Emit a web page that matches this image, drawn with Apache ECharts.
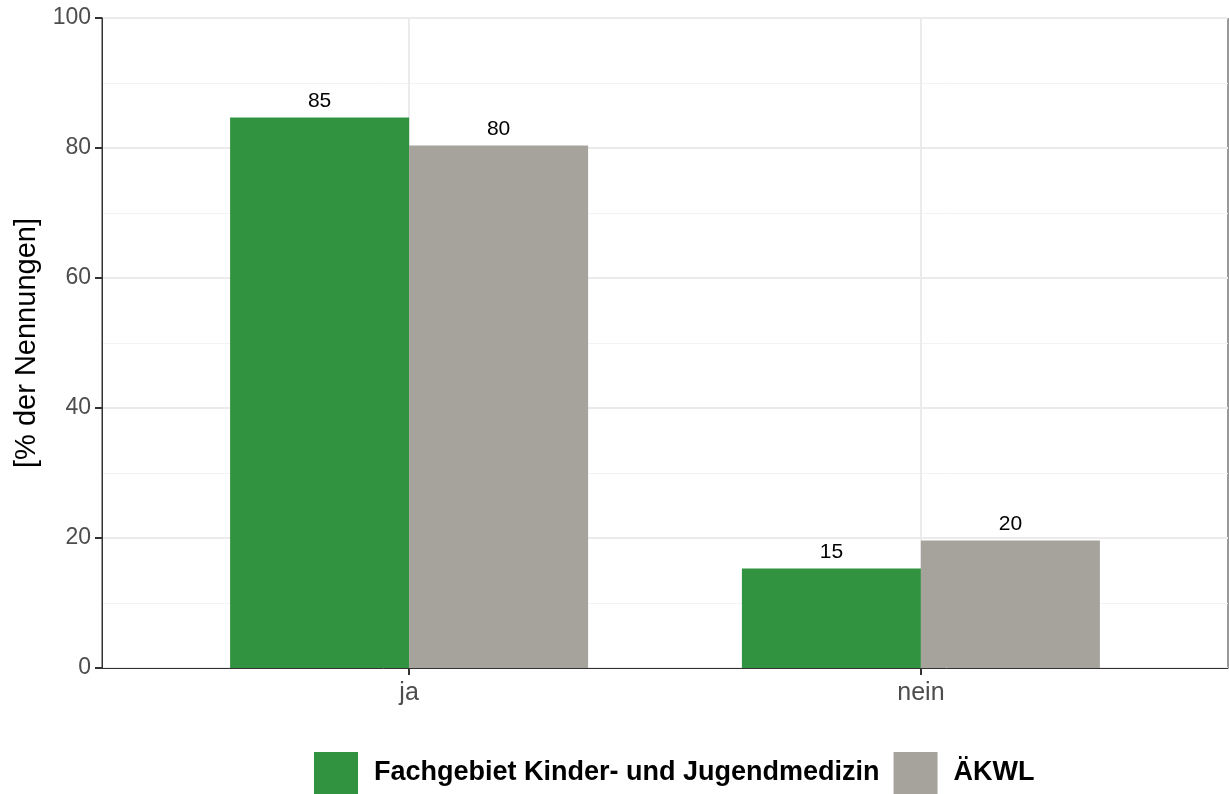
<!DOCTYPE html>
<html>
<head>
    <meta charset="utf-8">
    <title>ECharts</title>
    <script src="https://cdn.jsdelivr.net/npm/echarts@6/dist/echarts.min.js"></script>
</head>
<body style="margin:0">
    <div id="main" style="width: 1229px;height:794px;"></div>
    <script type="text/javascript">
        var categories = ['ja', 'nein'];
        var seriesNames = ['Fachgebiet Kinder- und Jugendmedizin', 'ÄKWL'];
        var fachgebiet = [84.7, 15.3];
        var aekwl = [80.4, 19.6];

        // x positions 1..n on a value axis, so the frame can reach past the bars like ggplot
        var toPairs = function(vals) {
            var res = [];
            for (var i = 0; i < vals.length; i++) {
                res.push([i + 1, vals[i]]);
            }
            return res;
        };
        var catPos = categories.map(function(c, i) { return i + 1; });

        var myChart = echarts.init(document.getElementById('main'));

        var barLabel = {
            show: true,
            position: 'top',
            distance: 6,
            color: '#000',
            fontSize: 21,
            formatter: function(p) { return Math.round(p.value[1]); }
        };

        var option = {
            backgroundColor: '#fff',
            animation: false,
            textStyle: { fontFamily: 'Liberation Sans, Arial, sans-serif' },
            grid: {
                left: 102,
                right: 1,
                top: 18,
                bottom: 126,
                show: true,
                borderColor: '#333',
                borderWidth: 1
            },
            legend: {
                bottom: 0,
                left: 314,
                padding: 0,
                itemWidth: 44,
                itemHeight: 42,
                itemGap: 14,
                icon: 'rect',
                textStyle: { fontSize: 27, fontWeight: 'bold', color: '#000', padding: [0, 0, 0, 11] },
                data: seriesNames
            },
            xAxis: {
                type: 'value',
                min: 0.4,
                max: 2.6,
                axisLine: { show: true, onZero: false, lineStyle: { color: '#333', width: 1 } },
                axisTick: { show: true, length: 7, customValues: catPos, lineStyle: { color: '#333', width: 2 } },
                axisLabel: {
                    customValues: catPos,
                    color: '#4d4d4d',
                    fontSize: 25,
                    margin: 13,
                    formatter: function(v) { return categories[Math.round(v) - 1]; }
                },
                splitLine: { show: true, lineStyle: { color: '#ebebeb', width: 2 } }
            },
            yAxis: {
                type: 'value',
                min: 0,
                max: 100,
                interval: 20,
                name: '[% der Nennungen]',
                nameLocation: 'middle',
                nameGap: 59,
                nameTextStyle: { fontSize: 29, color: '#000' },
                axisLine: { show: true, lineStyle: { color: '#333', width: 1 } },
                axisTick: { show: true, length: 7, lineStyle: { color: '#333', width: 2 } },
                axisLabel: { color: '#4d4d4d', fontSize: 23, margin: 11 },
                splitLine: { show: true, lineStyle: { color: '#ebebeb', width: 2 } },
                minorTick: { show: false, splitNumber: 2 },
                minorSplitLine: { show: true, lineStyle: { color: '#f3f3f3', width: 1 } }
            },
            series: [
                {
                    type: 'bar',
                    name: seriesNames[0],
                    data: toPairs(fachgebiet),
                    barWidth: 179,
                    barGap: '0%',
                    itemStyle: { color: '#31933f' },
                    label: barLabel
                },
                {
                    type: 'bar',
                    name: seriesNames[1],
                    data: toPairs(aekwl),
                    barWidth: 179,
                    barGap: '0%',
                    itemStyle: { color: '#a5a39b' },
                    label: barLabel
                }
            ]
        };

        myChart.setOption(option);
    </script>
</body>
</html>
